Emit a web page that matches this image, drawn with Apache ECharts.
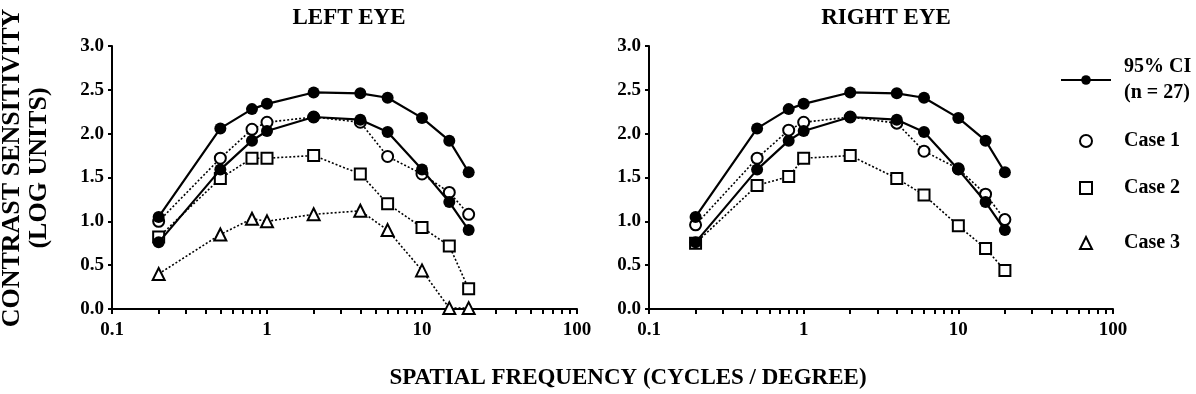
<!DOCTYPE html>
<html>
<head>
<meta charset="utf-8">
<script src="https://cdn.jsdelivr.net/npm/echarts@6/dist/echarts.min.js"></script>
<style>
html,body{margin:0;padding:0;background:#fff;}
#chart{width:1196px;height:394px;}
</style>
</head>
<body>
<div id="chart"></div>
<script>
// Spatial frequencies (cycles/degree)
const freqs = [0.2, 0.5, 0.8, 1, 2, 4, 6, 10, 15, 20];
const xTickValues = [0.1,0.2,0.3,0.4,0.5,0.6,0.7,0.8,0.9,1,2,3,4,5,6,7,8,9,10,20,30,40,50,60,70,80,90,100];
const xLabelValues = [0.1, 1, 10, 100];

// 95% CI (n = 27) — same for both eyes
const ciUpper = [1.05, 2.06, 2.28, 2.34, 2.47, 2.46, 2.41, 2.18, 1.92, 1.56];
const ciLower = [0.76, 1.59, 1.92, 2.03, 2.19, 2.16, 2.02, 1.59, 1.22, 0.90];

// Left eye cases
const leftCase1 = [1.00, 1.72, 2.05, 2.13, 2.19, 2.13, 1.74, 1.54, 1.33, 1.08];
const leftCase2 = [0.82, 1.49, 1.72, 1.72, 1.75, 1.54, 1.20, 0.93, 0.72, 0.23];
const leftCase3 = [0.40, 0.85, 1.03, 1.00, 1.08, 1.12, 0.90, 0.44, 0.01, 0.01];

// Right eye cases
const rightCase1 = [0.96, 1.72, 2.04, 2.13, 2.19, 2.12, 1.80, 1.60, 1.31, 1.02];
const rightCase2 = [0.75, 1.41, 1.51, 1.72, 1.75, 1.49, 1.30, 0.95, 0.69, 0.44];

const titles = ['LEFT EYE', 'RIGHT EYE'];
const yTitleLines = ['CONTRAST SENSITIVITY', '(LOG UNITS)'];
const xTitle = 'SPATIAL FREQUENCY (CYCLES / DEGREE)';
const ciName = '95% CI\n(n = 27)';
const caseNames = ['Case 1', 'Case 2', 'Case 3'];

const FONT = '"Liberation Serif", "Times New Roman", serif';
const pairs = ys => freqs.map((f, i) => [f, ys[i]]);

function ciSeries(ys, g) {
  return {
    name: ciName, type: 'line', xAxisIndex: g, yAxisIndex: g,
    data: pairs(ys), symbol: 'circle', symbolSize: 12,
    itemStyle: {color: '#000', borderColor: '#000', borderWidth: 0},
    lineStyle: {color: '#000', width: 2.2, type: 'solid'},
    z: 5, animation: false
  };
}
function caseSeries(name, ys, g, symbol, size) {
  return {
    name: name, type: 'line', xAxisIndex: g, yAxisIndex: g,
    data: pairs(ys), symbol: symbol, symbolSize: size,
    itemStyle: {color: '#fff', borderColor: '#000', borderWidth: 2},
    lineStyle: {color: '#000', width: 1.6, type: [2, 2]},
    z: 3, animation: false
  };
}

const grids = [
  {left: 112, right: 619, top: 46, bottom: 85},
  {left: 649, right: 83, top: 46, bottom: 85}
];

function xAxis(g) {
  return {
    type: 'log', logBase: 10, gridIndex: g, min: 0.1, max: 100,
    axisLine: {lineStyle: {color: '#000', width: 2}},
    axisTick: {show: true, customValues: xTickValues, length: 5, inside: false, lineStyle: {color: '#000', width: 2}},
    axisLabel: {customValues: xLabelValues, color: '#000', fontFamily: FONT, fontWeight: 'bold', fontSize: 19, margin: 12,
      formatter: v => String(v)},
    splitLine: {show: false}, minorTick: {show: false}
  };
}
function yAxis(g) {
  return {
    type: 'value', gridIndex: g, min: 0, max: 3, interval: 0.5,
    axisLine: {show: true, lineStyle: {color: '#000', width: 2}},
    axisTick: {show: true, length: 4, lineStyle: {color: '#000', width: 2}},
    axisLabel: {color: '#000', fontFamily: FONT, fontWeight: 'bold', fontSize: 19, margin: 8,
      formatter: v => v.toFixed(1)},
    splitLine: {show: false}
  };
}

const legendText = {color: '#000', fontFamily: FONT, fontWeight: 'bold', fontSize: 20, lineHeight: 26};
const markerStyle = {color: '#fff', borderColor: '#000', borderWidth: 2};
function caseLegend(top, name, icon) {
  return {
    orient: 'vertical', left: 1079, top: top, itemWidth: 12, itemHeight: 12, padding: 0,
    selectedMode: false,
    textStyle: Object.assign({}, legendText, {lineHeight: 22, padding: [0, 0, 0, 27]}),
    data: [{name: name, icon: icon, itemStyle: markerStyle}]
  };
}
const legends = [
  {orient: 'vertical', left: 1060, top: 54, itemWidth: 50, itemHeight: 12, padding: 0,
   selectedMode: false, textStyle: Object.assign({}, legendText, {padding: [0, 0, 0, 8]}),
   data: [{name: ciName}]},
  caseLegend(130, caseNames[0], 'circle'),
  caseLegend(177, caseNames[1], 'rect'),
  caseLegend(232, caseNames[2], 'triangle')
];

const titleStyle = {fontFamily: FONT, fontWeight: 'bold', fontSize: 23, color: '#000'};
const textBold = {fontFamily: FONT, fontWeight: 'bold', fill: '#000'};
const option = {
  backgroundColor: '#fff',
  animation: false,
  title: [
    {text: titles[0], left: 344, top: 2, textAlign: 'center', textStyle: titleStyle},
    {text: titles[1], left: 881, top: 2, textAlign: 'center', textStyle: titleStyle}
  ],
  graphic: [
    {type: 'text', x: 12, y: 168, rotation: Math.PI / 2,
     style: Object.assign({text: yTitleLines[0], fontSize: 26, align: 'center', verticalAlign: 'middle'}, textBold)},
    {type: 'text', x: 39, y: 168, rotation: Math.PI / 2,
     style: Object.assign({text: yTitleLines[1], fontSize: 26, align: 'center', verticalAlign: 'middle'}, textBold)},
    {type: 'text', x: 628, y: 378,
     style: Object.assign({text: xTitle, fontSize: 23, align: 'center', verticalAlign: 'middle'}, textBold)}
  ],
  legend: legends,
  grid: grids,
  xAxis: [xAxis(0), xAxis(1)],
  yAxis: [yAxis(0), yAxis(1)],
  series: [
    caseSeries(caseNames[0], leftCase1, 0, 'circle', 11),
    caseSeries(caseNames[1], leftCase2, 0, 'rect', 11),
    caseSeries(caseNames[2], leftCase3, 0, 'triangle', 12),
    ciSeries(ciUpper, 0),
    ciSeries(ciLower, 0),
    caseSeries(caseNames[0], rightCase1, 1, 'circle', 11),
    caseSeries(caseNames[1], rightCase2, 1, 'rect', 11),
    ciSeries(ciUpper, 1),
    ciSeries(ciLower, 1)
  ]
};

const chart = echarts.init(document.getElementById('chart'), null, {renderer: 'canvas'});
chart.setOption(option);
</script>
</body>
</html>
